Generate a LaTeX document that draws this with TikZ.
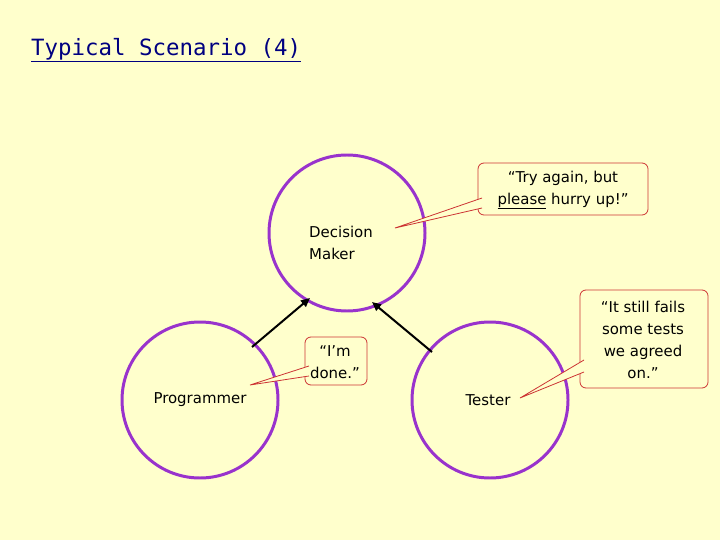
\documentclass[tikz,border=0pt]{standalone}
\usepackage{fontspec}
\setmainfont{DejaVu Sans}
\newfontfamily\titlefont{DejaVu Sans Mono}
\usetikzlibrary{arrows.meta}
\definecolor{bg}{RGB}{255,255,204}
\definecolor{circ}{RGB}{153,51,204}
\definecolor{call}{RGB}{204,51,51}
\definecolor{navy}{RGB}{0,0,128}
\tikzset{
  role/.style={circle,draw=circ,line width=3pt,minimum size=156bp,inner sep=0pt},
  callbox/.style={draw=call,fill=bg,rounded corners=6bp,line width=0.8pt},
  wedge/.style={fill=bg},
  wedgeline/.style={draw=call,line width=0.8pt},
  txt/.style={font=\fontsize{15}{22}\selectfont,align=center},
  link/.style={line width=2pt,-{Triangle[length=9bp,width=8bp]}}
}
\begin{document}
\begin{tikzpicture}[x=1bp,y=-1bp]
\fill[bg] (0,0) rectangle (720,540);
\useasboundingbox (0,0) rectangle (720,540);
\node[anchor=west,text=navy,font=\titlefont\fontsize{22.5}{26}\selectfont,inner sep=0pt] (title) at (31,50) {\underline{Typical Scenario (4)}};
\node[role] (dm) at (347,233) {};
\node[role] (pg) at (200,400) {};
\node[role] (ts) at (490,400) {};
\node[txt,align=left,anchor=west,inner sep=0pt] (dml) at (309,243) {Decision\\Maker};
\node[txt] (pgl) at (200,400) {Programmer};
\node[txt] (tsl) at (488,400) {Tester};
\coordinate (a1s) at (252,347); \coordinate (a1e) at (310,298);
\coordinate (a2s) at (432,352); \coordinate (a2e) at (372,302);
\draw[link] (a1s) -- (a1e);
\draw[link] (a2s) -- (a2e);
% callout 1
\draw[callbox] (478,163) rectangle (648,215);
\coordinate (p1) at (395,228);
\fill[wedge] (p1) -- (482,198) -- (482,208) -- cycle;
\draw[wedgeline] (482,198) -- (p1) -- (482,208);
\node[txt] (c1) at (563,190) {“Try again, but\\\underline{please} hurry up!”};
% callout 2
\draw[callbox] (580,290) rectangle (708,388);
\coordinate (p2) at (520,398);
\fill[wedge] (p2) -- (584,360) -- (584,372) -- cycle;
\draw[wedgeline] (584,360) -- (p2) -- (584,372);
\node[txt] (c2) at (643,340) {“It still fails\\some tests\\we agreed\\on.”};
% callout 3
\draw[callbox] (305,337) rectangle (367,385);
\coordinate (p3) at (250,385);
\fill[wedge] (p3) -- (309,366) -- (309,376) -- cycle;
\draw[wedgeline] (309,366) -- (p3) -- (309,376);
\node[txt] (c3) at (335,362) {“I’m\\done.”};
\end{tikzpicture}
\end{document}
